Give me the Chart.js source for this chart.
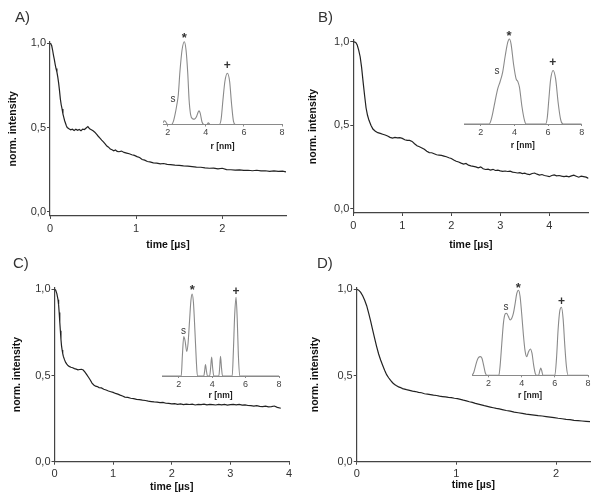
<!DOCTYPE html>
<html>
<head>
<meta charset="utf-8">
<script src="https://cdn.jsdelivr.net/npm/chart.js@4.4.1/dist/chart.umd.min.js"></script>
<style>
body { margin: 0; background: #fff; }
#fig { position: relative; width: 600px; height: 503px; }
canvas { position: absolute; }
.tag { position: absolute; font: 15px "Liberation Sans", Arial, sans-serif; line-height: 15px; color: #333; }
</style>
</head>
<body>
<div id="fig">
  <canvas id="mainA" width="300" height="250" style="left:0;top:0"></canvas>
  <canvas id="mainB" width="300" height="250" style="left:300px;top:0"></canvas>
  <canvas id="mainC" width="300" height="253" style="left:0;top:250px"></canvas>
  <canvas id="mainD" width="300" height="253" style="left:300px;top:250px"></canvas>
  <canvas id="insetA" width="140" height="140" style="left:150px;top:20px"></canvas>
  <canvas id="insetB" width="145" height="140" style="left:450px;top:20px"></canvas>
  <canvas id="insetC" width="140" height="140" style="left:150px;top:270px"></canvas>
  <canvas id="insetD" width="135" height="140" style="left:460px;top:270px"></canvas>
  <div class="tag" style="left:15px;top:9px">A)</div>
  <div class="tag" style="left:318px;top:9px">B)</div>
  <div class="tag" style="left:13px;top:255px">C)</div>
  <div class="tag" style="left:317px;top:255px">D)</div>
</div>
<script>
// tick labels
var yTicks = [0, 0.5, 1.0];
var xTicksA = [0, 1, 2];
var xTicksB = [0, 1, 2, 3, 4];
var xTicksC = [0, 1, 2, 3, 4];
var xTicksD = [0, 1, 2];
var rTicks = [2, 4, 6, 8];

// decay curves: time [us] and normalised intensity
var timeA = [0, 0.01, 0.02, 0.03, 0.04, 0.05, 0.06, 0.07, 0.08, 0.09, 0.10, 0.11, 0.12, 0.13, 0.14, 0.15, 0.16, 0.17, 0.18, 0.19, 0.20, 0.22, 0.24, 0.26, 0.28, 0.30, 0.32, 0.34, 0.36, 0.38, 0.40, 0.42, 0.44, 0.46, 0.48, 0.50, 0.52, 0.54, 0.56, 0.58, 0.60, 0.62, 0.64, 0.66, 0.68, 0.70, 0.72, 0.74, 0.76, 0.78, 0.80, 0.83, 0.86, 0.89, 0.92, 0.95, 0.98, 1.01, 1.04, 1.07, 1.10, 1.13, 1.16, 1.20, 1.24, 1.28, 1.32, 1.36, 1.40, 1.45, 1.50, 1.55, 1.60, 1.65, 1.70, 1.75, 1.80, 1.85, 1.90, 1.95, 2.00, 2.05, 2.10, 2.15, 2.20, 2.25, 2.30, 2.35, 2.40, 2.45, 2.50, 2.55, 2.60, 2.65, 2.70, 2.74];
var intA = [1.0, 0.995, 0.985, 0.96, 0.93, 0.905, 0.875, 0.85, 0.83, 0.80, 0.765, 0.72, 0.67, 0.635, 0.61, 0.58, 0.56, 0.54, 0.525, 0.51, 0.50, 0.492, 0.486, 0.49, 0.482, 0.49, 0.483, 0.488, 0.481, 0.49, 0.488, 0.497, 0.505, 0.492, 0.486, 0.48, 0.472, 0.46, 0.448, 0.437, 0.425, 0.415, 0.403, 0.39, 0.383, 0.372, 0.368, 0.362, 0.366, 0.358, 0.356, 0.36, 0.352, 0.348, 0.344, 0.338, 0.334, 0.327, 0.322, 0.31, 0.306, 0.298, 0.296, 0.29, 0.288, 0.284, 0.286, 0.281, 0.28, 0.277, 0.275, 0.272, 0.27, 0.268, 0.265, 0.264, 0.26, 0.258, 0.259, 0.254, 0.258, 0.25, 0.249, 0.247, 0.248, 0.245, 0.246, 0.243, 0.246, 0.242, 0.243, 0.24, 0.242, 0.239, 0.241, 0.236];

var timeB = [0, 0.05, 0.08, 0.11, 0.14, 0.17, 0.20, 0.23, 0.26, 0.29, 0.32, 0.36, 0.40, 0.45, 0.50, 0.55, 0.60, 0.65, 0.70, 0.75, 0.80, 0.85, 0.90, 0.95, 1.00, 1.05, 1.10, 1.15, 1.20, 1.25, 1.30, 1.35, 1.40, 1.45, 1.50, 1.55, 1.60, 1.65, 1.70, 1.75, 1.80, 1.85, 1.90, 1.95, 2.00, 2.05, 2.10, 2.15, 2.20, 2.25, 2.30, 2.35, 2.40, 2.45, 2.50, 2.55, 2.60, 2.65, 2.70, 2.75, 2.80, 2.85, 2.90, 2.95, 3.00, 3.05, 3.10, 3.15, 3.20, 3.25, 3.30, 3.35, 3.40, 3.45, 3.50, 3.55, 3.60, 3.65, 3.70, 3.75, 3.80, 3.85, 3.90, 3.95, 4.00, 4.05, 4.10, 4.15, 4.20, 4.25, 4.30, 4.35, 4.40, 4.45, 4.50, 4.55, 4.60, 4.65, 4.70, 4.75, 4.80];
var intB = [1.0, 0.995, 0.98, 0.95, 0.91, 0.845, 0.76, 0.68, 0.605, 0.56, 0.53, 0.50, 0.478, 0.465, 0.456, 0.452, 0.447, 0.442, 0.436, 0.428, 0.424, 0.428, 0.425, 0.426, 0.422, 0.414, 0.41, 0.41, 0.404, 0.39, 0.378, 0.372, 0.365, 0.357, 0.345, 0.337, 0.336, 0.33, 0.324, 0.322, 0.32, 0.316, 0.312, 0.306, 0.302, 0.293, 0.285, 0.281, 0.274, 0.268, 0.272, 0.262, 0.258, 0.255, 0.252, 0.246, 0.252, 0.24, 0.236, 0.238, 0.233, 0.237, 0.23, 0.232, 0.228, 0.225, 0.227, 0.224, 0.226, 0.22, 0.218, 0.215, 0.217, 0.212, 0.214, 0.208, 0.206, 0.212, 0.215, 0.208, 0.203, 0.206, 0.2, 0.197, 0.193, 0.2, 0.204, 0.198, 0.2, 0.196, 0.193, 0.196, 0.192, 0.198, 0.202, 0.196, 0.19, 0.196, 0.193, 0.19, 0.183];

var timeC = [0, 0.02, 0.04, 0.06, 0.07, 0.08, 0.09, 0.10, 0.11, 0.12, 0.13, 0.14, 0.15, 0.17, 0.19, 0.21, 0.23, 0.25, 0.28, 0.31, 0.34, 0.37, 0.40, 0.43, 0.46, 0.49, 0.52, 0.55, 0.58, 0.61, 0.64, 0.67, 0.70, 0.73, 0.76, 0.80, 0.84, 0.88, 0.92, 0.96, 1.00, 1.04, 1.08, 1.12, 1.16, 1.20, 1.25, 1.30, 1.35, 1.40, 1.45, 1.50, 1.55, 1.60, 1.65, 1.70, 1.75, 1.80, 1.85, 1.90, 1.95, 2.00, 2.05, 2.10, 2.15, 2.20, 2.25, 2.30, 2.35, 2.40, 2.45, 2.50, 2.55, 2.60, 2.65, 2.70, 2.75, 2.80, 2.85, 2.90, 2.95, 3.00, 3.05, 3.10, 3.15, 3.20, 3.25, 3.30, 3.35, 3.40, 3.45, 3.50, 3.55, 3.60, 3.65, 3.70, 3.75, 3.80, 3.86];
var intC = [1.0, 0.995, 0.975, 0.94, 0.91, 0.865, 0.81, 0.76, 0.71, 0.672, 0.648, 0.628, 0.612, 0.592, 0.576, 0.566, 0.558, 0.553, 0.548, 0.545, 0.54, 0.537, 0.533, 0.535, 0.536, 0.532, 0.52, 0.505, 0.49, 0.474, 0.456, 0.445, 0.438, 0.436, 0.43, 0.428, 0.42, 0.416, 0.41, 0.406, 0.402, 0.396, 0.392, 0.386, 0.381, 0.375, 0.373, 0.368, 0.366, 0.362, 0.36, 0.357, 0.355, 0.351, 0.349, 0.347, 0.346, 0.343, 0.344, 0.339, 0.338, 0.336, 0.337, 0.333, 0.335, 0.331, 0.334, 0.332, 0.334, 0.329, 0.333, 0.331, 0.334, 0.33, 0.332, 0.331, 0.329, 0.333, 0.33, 0.332, 0.328, 0.331, 0.333, 0.33, 0.332, 0.328, 0.33, 0.326, 0.325, 0.323, 0.325, 0.321, 0.32, 0.322, 0.318, 0.32, 0.323, 0.315, 0.31];

var timeD = [0, 0.02, 0.04, 0.06, 0.08, 0.10, 0.12, 0.14, 0.16, 0.18, 0.20, 0.22, 0.24, 0.26, 0.28, 0.30, 0.32, 0.34, 0.36, 0.38, 0.40, 0.42, 0.44, 0.46, 0.48, 0.50, 0.53, 0.56, 0.59, 0.62, 0.65, 0.68, 0.71, 0.74, 0.77, 0.80, 0.83, 0.86, 0.89, 0.92, 0.95, 0.98, 1.01, 1.04, 1.07, 1.10, 1.13, 1.16, 1.19, 1.22, 1.25, 1.28, 1.31, 1.34, 1.37, 1.40, 1.43, 1.46, 1.50, 1.54, 1.58, 1.62, 1.66, 1.70, 1.74, 1.78, 1.82, 1.86, 1.90, 1.94, 1.98, 2.02, 2.06, 2.10, 2.14, 2.18, 2.22, 2.26, 2.30, 2.34];
var intD = [1.0, 0.995, 0.982, 0.963, 0.937, 0.905, 0.862, 0.815, 0.765, 0.715, 0.668, 0.625, 0.59, 0.56, 0.53, 0.505, 0.487, 0.472, 0.458, 0.448, 0.44, 0.434, 0.43, 0.424, 0.421, 0.418, 0.414, 0.409, 0.407, 0.402, 0.4, 0.394, 0.392, 0.389, 0.386, 0.384, 0.38, 0.378, 0.376, 0.373, 0.372, 0.368, 0.366, 0.362, 0.357, 0.353, 0.348, 0.344, 0.338, 0.334, 0.33, 0.325, 0.321, 0.317, 0.313, 0.309, 0.306, 0.302, 0.297, 0.293, 0.288, 0.284, 0.28, 0.276, 0.273, 0.27, 0.267, 0.265, 0.262, 0.259, 0.256, 0.252, 0.249, 0.246, 0.244, 0.24, 0.238, 0.236, 0.234, 0.232];

// distance distributions: r [nm] and relative weight
var rA = [1.75, 1.82, 1.9, 1.97, 2.05, 2.2, 2.3, 2.4, 2.47, 2.55, 2.64, 2.75, 2.87, 2.96, 3.05, 3.12, 3.2, 3.3, 3.4, 3.5, 3.58, 3.64, 3.7, 3.8, 3.9, 4.05, 4.13, 4.22, 4.7, 4.8, 4.9, 5.0, 5.13, 5.25, 5.35, 5.45, 5.55, 8.0];
var distA = [0.02, 0.045, 0.03, 0.005, 0, 0, 0.04, 0.14, 0.23, 0.35, 0.64, 0.9, 1.0, 0.9, 0.62, 0.3, 0.12, 0.07, 0.065, 0.09, 0.14, 0.165, 0.14, 0.03, 0, 0, 0.02, 0, 0, 0.06, 0.3, 0.52, 0.62, 0.52, 0.25, 0.04, 0, 0];

var rB = [1.0, 2.5, 2.6, 2.7, 2.85, 3.0, 3.15, 3.3, 3.45, 3.6, 3.7, 3.8, 3.95, 4.1, 4.2, 4.3, 4.45, 4.6, 4.7, 5.85, 5.95, 6.05, 6.15, 6.3, 6.45, 6.6, 6.75, 6.9, 8.0];
var distB = [0, 0, 0.04, 0.12, 0.27, 0.41, 0.5, 0.61, 0.8, 0.96, 1.0, 0.94, 0.7, 0.53, 0.5, 0.43, 0.2, 0.04, 0, 0, 0.07, 0.3, 0.52, 0.63, 0.53, 0.25, 0.05, 0, 0];

var rC = [1.0, 2.15, 2.22, 2.3, 2.38, 2.48, 2.56, 2.65, 2.73, 2.8, 2.88, 2.97, 3.05, 3.12, 3.5, 3.55, 3.6, 3.66, 3.72, 3.85, 3.91, 3.97, 4.03, 4.1, 4.4, 4.45, 4.5, 4.56, 4.62, 5.2, 5.27, 5.35, 5.43, 5.5, 5.57, 5.65, 8.0];
var distC = [0, 0, 0.25, 0.48, 0.43, 0.3, 0.4, 0.68, 0.92, 1.0, 0.9, 0.55, 0.2, 0, 0, 0.06, 0.14, 0.06, 0, 0, 0.1, 0.23, 0.1, 0, 0, 0.1, 0.24, 0.1, 0, 0, 0.3, 0.75, 0.96, 0.7, 0.25, 0, 0];

var rD = [1.0, 1.1, 1.2, 1.3, 1.4, 1.5, 1.6, 1.7, 1.8, 1.9, 2.62, 2.7, 2.8, 2.9, 3.0, 3.08, 3.2, 3.3, 3.4, 3.5, 3.6, 3.7, 3.8, 3.9, 4.0, 4.1, 4.2, 4.3, 4.4, 4.52, 4.62, 4.72, 4.82, 4.9, 5.02, 5.1, 5.15, 5.2, 5.28, 6.0, 6.1, 6.2, 6.3, 6.4, 6.5, 6.6, 6.7, 6.8, 8.0];
var distD = [0, 0.03, 0.1, 0.17, 0.21, 0.22, 0.2, 0.12, 0.03, 0, 0, 0.12, 0.38, 0.62, 0.72, 0.73, 0.69, 0.65, 0.67, 0.73, 0.84, 0.96, 1.0, 0.93, 0.72, 0.48, 0.29, 0.22, 0.27, 0.31, 0.26, 0.12, 0.02, 0, 0, 0.06, 0.085, 0.06, 0, 0, 0.2, 0.55, 0.76, 0.8, 0.66, 0.35, 0.1, 0, 0];

// peak markers in the insets (text, r, value where the text sits)
var markText = ['*', '+', 's'];
var markRA = [2.87, 5.13, 2.28], markVA = [1.08, 0.71, 0.30];
var markRB = [3.68, 6.28, 2.96], markVB = [1.07, 0.72, 0.62];
var markRC = [2.81, 5.43, 2.28], markVC = [1.08, 1.03, 0.54];
var markRD = [3.79, 6.40, 3.05], markVD = [1.06, 0.86, 0.80];

Chart.defaults.font.family = '"Liberation Sans", Arial, sans-serif';

var peakMarks = {
    id: 'peakMarks',
    afterDatasetsDraw: function(chart, args, opts) {
        if (!opts.r) return;
        var ctx = chart.ctx, xs = chart.scales.x, ys = chart.scales.y;
        ctx.save();
        ctx.textAlign = 'center';
        ctx.textBaseline = 'middle';
        ctx.fillStyle = '#333';
        markText.forEach(function(t, i) {
            var px = xs.getPixelForValue(opts.r[i]);
            var py = ys.getPixelForValue(opts.v[i]);
            if (t === '*') { ctx.font = 'bold 13px "Liberation Sans", Arial, sans-serif'; py += 3; }
            else if (t === '+') { ctx.font = 'bold 12px "Liberation Sans", Arial, sans-serif'; }
            else { ctx.font = '10px "Liberation Sans", Arial, sans-serif'; }
            ctx.fillText(t, px, py);
        });
        ctx.restore();
    }
};

function points(xs, ys) {
    return xs.map(function(x, i) { return {x: x, y: ys[i]}; });
}

function mainChart(id, t, v, c) {
    new Chart(document.getElementById(id), {
        type: 'line',
        data: {
            datasets: [{
                data: points(t, v),
                borderColor: '#222',
                borderWidth: 1.2,
                pointRadius: 0,
                tension: 0,
                fill: false
            }]
        },
        options: {
            responsive: false,
            animation: false,
            events: [],
            layout: { padding: { left: 0, top: c.top, right: c.right, bottom: 0 } },
            plugins: { legend: { display: false }, tooltip: { enabled: false } },
            scales: {
                x: {
                    type: 'linear',
                    min: 0,
                    max: c.xmax,
                    afterBuildTicks: function(s) { s.ticks = c.xticks.map(function(v) { return {value: v}; }); },
                    afterFit: function(s) { s.height = c.xh; },
                    grid: { drawOnChartArea: false, drawTicks: true, tickLength: 3, color: '#444' },
                    border: { display: true, color: '#444', width: 1.2 },
                    ticks: { color: '#333', padding: 3, font: { size: 11 }, maxRotation: 0,
                             callback: function(v) { return String(v); } },
                    title: { display: true, text: 'time [µs]', color: '#111',
                             font: { size: 10.5, weight: 'bold' }, padding: { top: 0, bottom: c.tpad } }
                },
                y: {
                    type: 'linear',
                    min: c.ymin,
                    max: 1.01,
                    afterBuildTicks: function(s) { s.ticks = yTicks.map(function(v) { return {value: v}; }); },
                    afterFit: function(s) { s.width = c.yw; },
                    grid: { drawOnChartArea: false, drawTicks: true, tickLength: 3, color: '#444' },
                    border: { display: true, color: '#444', width: 1.2 },
                    ticks: { color: '#333', padding: 1, font: { size: 11 },
                             callback: function(v) { return v.toFixed(1).replace('.', ','); } },
                    title: { display: true, text: 'norm. intensity', color: '#111',
                             font: { size: 10.5, weight: 'bold' }, padding: { top: c.ypad, bottom: 0 } }
                }
            }
        }
    });
}

function insetChart(id, r, d, c) {
    new Chart(document.getElementById(id), {
        type: 'line',
        data: {
            datasets: [{
                data: points(r, d),
                borderColor: '#8a8a8a',
                borderWidth: 1.1,
                pointRadius: 0,
                cubicInterpolationMode: 'monotone',
                fill: false
            }]
        },
        options: {
            responsive: false,
            animation: false,
            events: [],
            layout: { padding: { left: c.left, top: c.top, right: c.right, bottom: 0 } },
            plugins: { legend: { display: false }, tooltip: { enabled: false },
                       peakMarks: { r: c.mr, v: c.mv } },
            scales: {
                x: {
                    type: 'linear',
                    min: c.rmin,
                    max: 8,
                    afterBuildTicks: function(s) { s.ticks = rTicks.map(function(v) { return {value: v}; }); },
                    afterFit: function(s) { s.height = c.xh; },
                    grid: { drawOnChartArea: false, drawTicks: true, tickLength: 2, color: '#8a8a8a' },
                    border: { display: true, color: '#8a8a8a', width: 1 },
                    ticks: { color: '#444', padding: 1, font: { size: 9 }, maxRotation: 0,
                             callback: function(v) { return String(v); } },
                    title: { display: true, text: 'r [nm]', color: '#222',
                             font: { size: 8.5, weight: 'bold' }, padding: { top: 0, bottom: c.tpad } }
                },
                y: { display: false, min: 0, max: 1.05 }
            }
        },
        plugins: [peakMarks]
    });
}

mainChart('mainA', timeA, intA, { top: 41.6, right: 14, xh: 34.1, yw: 50, xmax: 2.74, ymin: -0.025, xticks: xTicksA, tpad: -1, ypad: 6.4 });
mainChart('mainB', timeB, intB, { top: 40, right: 11.5, xh: 37, yw: 53.3, xmax: 4.8, ymin: -0.024, xticks: xTicksB, tpad: -1, ypad: 6.4 });
mainChart('mainC', timeC, intC, { top: 37.6, right: 11, xh: 41.3, yw: 54.5, xmax: 4, ymin: 0, xticks: xTicksC, tpad: 9.5, ypad: 10.4 });
mainChart('mainD', timeD, intD, { top: 37.6, right: 10, xh: 41.3, yw: 56.7, xmax: 2.34, ymin: 0, xticks: xTicksD, tpad: 11.5, ypad: 8.4 });

insetChart('insetA', rA, distA, { left: 13, right: 8, top: 17.6, xh: 35.5, rmin: 1.75, tpad: 7.9, mr: markRA, mv: markVA });
insetChart('insetB', rB, distB, { left: 14, right: 13.3, top: 14.75, xh: 36, rmin: 1, tpad: 8.9, mr: markRB, mv: markVB });
insetChart('insetC', rC, distC, { left: 12, right: 11, top: 19.9, xh: 34, rmin: 1, tpad: 8.9, mr: markRC, mv: markVC });
insetChart('insetD', rD, distD, { left: 12, right: 7, top: 16, xh: 34.7, rmin: 1, tpad: 8.9, mr: markRD, mv: markVD });
</script>
</body>
</html>
